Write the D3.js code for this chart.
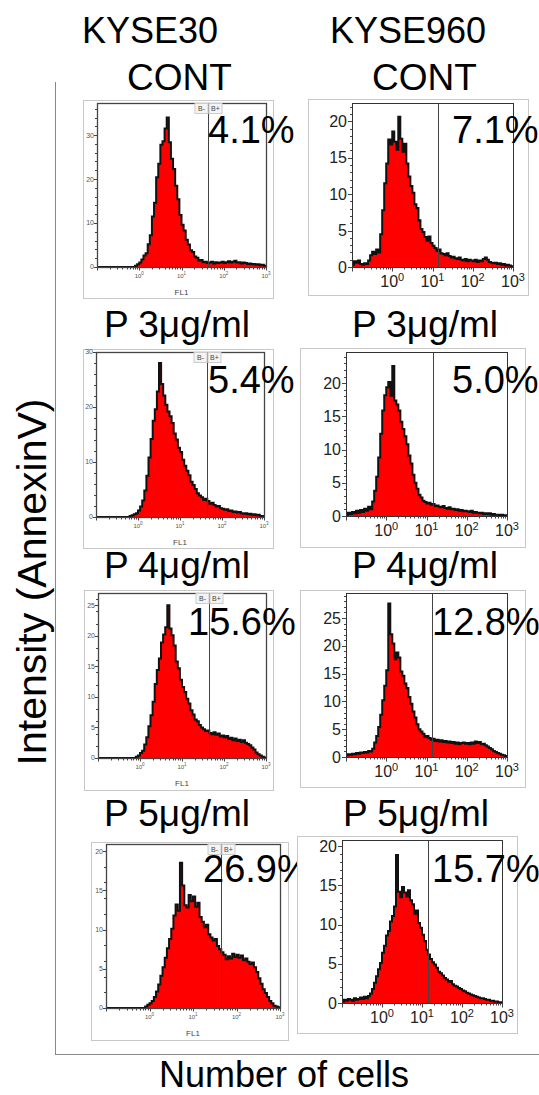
<!DOCTYPE html>
<html>
<head>
<meta charset="utf-8">
<script src="https://cdn.jsdelivr.net/npm/d3@7"></script>
<style>
  body { margin: 0; background: #fff; }
  svg { display: block; }
  text { font-family: "Liberation Sans", Arial, sans-serif; }
</style>
</head>
<body>
<svg id="chart" width="539" height="1095"></svg>
<script>
// ---- data ----
const cellLines = ['KYSE30', 'KYSE960'];
const doseLabels = ['CONT', 'P 3μg/ml', 'P 4μg/ml', 'P 5μg/ml'];
const percentLabels = ['4.1%', '7.1%', '5.4%', '5.0%', '15.6%', '12.8%', '26.9%', '15.7%'];
// gate position on FL1 (linear units)
const gateValues = [43, 14, 44, 14.5, 44, 14, 44, 14];
const xTickValues = [1, 10, 100, 1000];
const yTicks30 = [0, 10, 20, 30];
const yTicks25 = [0, 5, 10, 15, 20, 25];
const yTicks20 = [0, 5, 10, 15, 20];
const xTitle = 'Number of cells';
const yTitle = 'Intensity (AnnexinV)';
const flLabel = 'FL1';

// counts per bin, 80 bins spanning 10^-1 .. 10^3 (0.05 decade each)
const kyse30Cont = [
  0, 0, 0, 0, 0, 0, 0, 0, 0, 0, 0, 0, 0, 0, 0, 0, 0, 0, 0.3, 0.6,
  1.0, 1.7, 2.6, 3.1, 5.2, 7.2, 11.5, 14.6, 20.4, 23.5, 27.8, 28.6, 31.5, 34.0, 28.4, 24.6, 22.3, 18.5, 15.4, 11.8,
  9.6, 8.3, 6.2, 5.1, 3.8, 3.4, 2.4, 2.1, 1.5, 1.6, 1.1, 1.2, 0.9, 1.0, 1.2, 0.8, 1.1, 0.9, 1.0, 1.2,
  0.9, 1.1, 1.3, 1.0, 1.2, 1.4, 1.0, 1.1, 0.8, 1.0, 0.9, 0.7, 0.8, 0.6, 0.7, 0.5, 0.6, 0.4, 0.5, 0.3
];
const kyse960Cont = [
  0.3, 0.8, 0.6, 0.9, 0.4, 0.3, 0.5, 0.4, 0.9, 1.6, 2.1, 1.8, 2.4, 2.0, 4.5, 7.8, 11.5, 14.2, 17.5, 16.8,
  18.6, 17.2, 16.1, 20.6, 17.6, 15.8, 16.9, 14.2, 12.4, 11.1, 10.2, 8.6, 8.1, 6.4, 5.2, 4.8, 4.1, 3.6, 4.2, 3.3,
  2.9, 2.6, 2.2, 2.4, 1.9, 1.8, 1.6, 1.9, 1.5, 1.3, 1.4, 1.2, 1.1, 1.3, 1.0, 0.9, 1.1, 0.8, 1.0, 0.9,
  0.8, 1.0, 0.7, 0.9, 0.8, 1.1, 1.3, 1.0, 0.7, 0.6, 0.5, 0.6, 0.4, 0.5, 0.3, 0.4, 0.2, 0.3, 0.2, 0.1
];
const kyse30P3 = [
  0, 0, 0, 0, 0, 0, 0, 0, 0, 0, 0, 0, 0, 0, 0, 0, 0.2, 0.3, 0.5, 0.7,
  1.2, 1.9, 3.0, 4.8, 7.5, 10.8, 14.2, 17.5, 19.6, 22.8, 28.0, 24.2, 22.1, 20.4, 19.2, 18.3, 17.1, 15.2, 14.1, 12.6,
  11.8, 10.4, 9.3, 8.4, 7.6, 6.4, 5.8, 5.1, 4.3, 3.9, 3.6, 3.1, 3.3, 2.9, 2.4, 2.6, 2.2, 1.9, 2.0, 1.6,
  1.5, 1.3, 1.4, 1.1, 1.2, 0.9, 1.0, 0.8, 0.9, 0.7, 0.6, 0.7, 0.5, 0.6, 0.4, 0.5, 0.3, 0.4, 0.2, 0.2
];
const kyse960P3 = [
  0.2, 0.5, 0.3, 0.6, 0.4, 0.8, 0.5, 0.9, 0.6, 1.1, 0.8, 1.4, 1.0, 2.2, 3.8, 5.9, 8.8, 12.4, 15.9, 18.2,
  19.4, 20.2, 18.1, 22.6, 17.4, 16.8, 15.9, 14.2, 13.1, 12.0, 10.8, 9.1, 7.9, 6.2, 5.0, 4.1, 3.2, 2.8, 2.3, 2.1,
  1.9, 2.0, 1.7, 1.8, 1.5, 1.6, 1.4, 1.3, 1.5, 1.2, 1.1, 1.3, 1.0, 1.1, 0.9, 1.0, 0.8, 0.9, 0.7, 0.8,
  0.7, 0.6, 0.8, 0.5, 0.6, 0.5, 0.4, 0.5, 0.3, 0.4, 0.3, 0.4, 0.2, 0.3, 0.2, 0.2, 0.1, 0.2, 0.1, 0.1
];
const kyse30P4 = [
  0, 0, 0, 0, 0, 0, 0, 0, 0, 0, 0, 0, 0, 0, 0, 0, 0, 0, 0.2, 0.4,
  0.8, 1.2, 2.2, 3.4, 5.2, 7.0, 9.2, 12.1, 14.4, 16.3, 18.9, 20.2, 21.4, 25.0, 21.2, 20.1, 18.4, 15.8, 14.7, 12.8,
  11.6, 10.8, 9.7, 8.9, 7.8, 7.1, 6.3, 6.0, 5.4, 5.0, 4.7, 4.4, 4.5, 4.1, 3.9, 4.2, 3.8, 4.0, 3.5, 3.7,
  3.4, 3.6, 3.1, 3.3, 2.9, 3.2, 2.8, 3.0, 2.6, 2.9, 2.5, 2.3, 2.1, 1.7, 1.4, 0.9, 0.6, 0.4, 0.2, 0.1
];
const kyse960P4 = [
  0.3, 0.5, 0.4, 0.6, 0.5, 0.7, 0.6, 0.8, 0.7, 0.9, 0.8, 1.1, 1.0, 1.5, 2.6, 3.8, 5.4, 7.6, 10.2, 12.8,
  15.6, 27.6, 22.1, 20.4, 17.6, 18.8, 17.9, 15.4, 14.6, 13.2, 12.4, 10.8, 9.6, 8.2, 7.1, 5.9, 5.0, 4.6, 4.2, 3.6,
  3.8, 3.4, 3.1, 3.3, 2.9, 3.1, 2.8, 3.0, 2.7, 2.9, 2.6, 2.8, 2.5, 2.7, 2.4, 2.6, 2.3, 2.5, 2.6, 2.4,
  2.5, 2.3, 2.6, 2.4, 2.8, 2.5, 2.7, 2.3, 2.4, 2.1, 1.9, 1.6, 1.4, 1.1, 0.9, 0.7, 0.6, 0.4, 0.3, 0.2
];
const kyse30P5 = [
  0, 0, 0, 0, 0, 0, 0, 0, 0, 0, 0, 0, 0, 0, 0, 0, 0, 0, 0.2, 0.4,
  0.6, 0.9, 1.4, 2.1, 3.0, 4.1, 5.2, 6.4, 7.6, 8.8, 10.1, 11.8, 13.2, 12.4, 18.5, 15.6, 13.1, 12.8, 14.4, 13.6,
  14.2, 12.9, 13.4, 11.6, 11.0, 10.3, 10.6, 9.4, 9.0, 8.6, 8.8, 7.9, 7.5, 7.1, 6.8, 6.2, 6.6, 6.3, 6.9, 6.5,
  6.8, 6.4, 6.7, 6.1, 6.3, 5.9, 5.6, 5.8, 5.2, 4.6, 3.8, 3.1, 2.4, 1.9, 1.4, 0.9, 0.6, 0.3, 0.2, 0.1
];
const kyse960P5 = [
  0.2, 0.4, 0.3, 0.5, 0.4, 0.3, 0.6, 0.4, 0.5, 0.7, 0.5, 0.8, 0.6, 0.9, 1.2, 1.8, 2.6, 3.4, 4.3, 5.1,
  6.4, 7.3, 8.6, 9.2, 10.4, 11.1, 12.3, 18.9, 14.2, 13.5, 14.8, 14.1, 13.6, 14.4, 13.1, 12.6, 11.4, 11.8, 10.2, 9.6,
  8.7, 7.9, 6.8, 6.2, 5.6, 5.2, 4.9, 4.5, 4.0, 3.8, 3.5, 3.2, 3.0, 2.7, 2.8, 2.4, 2.2, 2.1, 1.9, 1.8,
  1.6, 1.5, 1.3, 1.2, 1.1, 1.0, 0.9, 0.8, 0.7, 0.6, 0.6, 0.5, 0.4, 0.4, 0.3, 0.3, 0.2, 0.2, 0.1, 0.1
];

const panelCounts = [kyse30Cont, kyse960Cont, kyse30P3, kyse960P3, kyse30P4, kyse960P4, kyse30P5, kyse960P5];
const panelYTicks = [yTicks30, yTicks20, yTicks30, yTicks20, yTicks25, yTicks25, yTicks20, yTicks20];

// ---- layout (pixels) ----
const layout = [
  { box: [83, 100, 190, 198], plot: [97, 103, 169, 164], yMax: 37.3, kind: 'small', pct: [208, 143] },
  { box: [308, 99, 220, 196], plot: [352, 103, 161, 164], yMax: 22.5, kind: 'large', pct: [452, 143] },
  { box: [83, 349, 190, 199], plot: [96, 352, 168, 165], yMax: 30, kind: 'small', pct: [208, 393] },
  { box: [300, 348, 225, 199], plot: [346, 352, 161, 164], yMax: 24.7, kind: 'large', pct: [452, 393] },
  { box: [84, 590, 189, 200], plot: [98, 593, 168, 165], yMax: 27, kind: 'small', pct: [188, 635] },
  { box: [300, 590, 225, 197], plot: [346, 593, 161, 164], yMax: 29.5, kind: 'large', pct: [432, 635] },
  { box: [91, 842, 197, 198], plot: [106, 844, 174, 164], yMax: 20.9, kind: 'small', pct: [203, 882] },
  { box: [297, 836, 220, 197], plot: [342, 840, 160, 163], yMax: 20.8, kind: 'large', pct: [432, 882] }
];
const headerPos = [[82, 127], [330, 372]];
const doseBaselines = [90, 337, 578, 826];
const doseX = [[104, 352], [104, 352], [104, 343]];

const svg = d3.select('#chart');

// outer frame
svg.append('line').attr('x1', 55.5).attr('x2', 55.5).attr('y1', 82).attr('y2', 1054.5)
  .attr('stroke', '#888').attr('stroke-width', 1);
svg.append('line').attr('x1', 55).attr('x2', 539).attr('y1', 1054.5).attr('y2', 1054.5)
  .attr('stroke', '#888').attr('stroke-width', 1);

// titles
cellLines.forEach((name, i) => {
  svg.append('text').attr('x', headerPos[i][0]).attr('y', 43)
    .style('font-size', '36px').text(name);
  svg.append('text').attr('x', headerPos[i][1]).attr('y', doseBaselines[0])
    .style('font-size', '37px').text(doseLabels[0]);
});
doseLabels.slice(1).forEach((d, r) => {
  doseX[r].forEach(x => {
    svg.append('text').attr('x', x).attr('y', doseBaselines[r + 1])
      .style('font-size', '37px').text(d);
  });
});

svg.append('text')
  .attr('transform', 'translate(46,582) rotate(-90)')
  .attr('text-anchor', 'middle')
  .style('font-size', '41px')
  .text(yTitle);

svg.append('text').attr('x', 284).attr('y', 1087)
  .attr('text-anchor', 'middle')
  .style('font-size', '36px')
  .text(xTitle);

function supLabel(sel, exp, supSize, dy) {
  sel.append('tspan').text('10');
  sel.append('tspan').attr('dy', dy).style('font-size', supSize + 'px').text(exp);
}

function drawPanel(i) {
  const p = layout[i];
  const counts = panelCounts[i];
  const small = p.kind === 'small';
  const [px, py, pw, ph] = p.plot;
  const g = svg.append('g');

  const x = d3.scaleLog().domain([0.1, 1000]).range([px, px + pw]);
  const y = d3.scaleLinear().domain([0, p.yMax]).range([py + ph, py]);

  g.append('rect')
    .attr('x', p.box[0] + 0.5).attr('y', p.box[1] + 0.5)
    .attr('width', p.box[2]).attr('height', p.box[3])
    .attr('fill', '#fff').attr('stroke', '#c8c8c8');

  const clipId = 'clip' + i;
  g.append('clipPath').attr('id', clipId)
    .append('rect').attr('x', px).attr('y', py).attr('width', pw).attr('height', ph);

  const binW = 4 / counts.length;
  const pts = counts.map((c, k) => ({ lo: Math.pow(10, -1 + k * binW), c }));
  pts.push({ lo: 1000, c: counts[counts.length - 1] });

  const area = d3.area()
    .x(d => x(d.lo)).y0(y(0)).y1(d => y(d.c))
    .curve(d3.curveStepAfter);
  const line = d3.line()
    .x(d => x(d.lo)).y(d => y(d.c))
    .curve(d3.curveStepAfter);

  const hist = g.append('g').attr('clip-path', `url(#${clipId})`);
  hist.append('path').datum(pts).attr('d', area).attr('fill', '#ff0000');
  hist.append('path').datum(pts).attr('d', line)
    .attr('fill', 'none').attr('stroke', '#111').attr('stroke-width', 2);

  // gate
  const gx = Math.round(x(gateValues[i])) + 0.5;
  g.append('line').attr('x1', gx).attr('x2', gx).attr('y1', py).attr('y2', py + ph)
    .attr('stroke', '#444').attr('stroke-width', 1);

  // plot frame
  g.append('rect').attr('x', px + 0.5).attr('y', py + 0.5)
    .attr('width', pw).attr('height', ph)
    .attr('fill', 'none').attr('stroke', small ? '#444' : '#333')
    .attr('stroke-width', small ? 1.3 : 1);

  const bottom = py + ph + 0.5;
  // x ticks (log, minor + major)
  x.ticks().forEach(v => {
    const major = Math.abs(Math.log10(v) - Math.round(Math.log10(v))) < 1e-9;
    const len = major ? (small ? 3 : 4) : 2;
    g.append('line').attr('x1', Math.round(x(v)) + 0.5).attr('x2', Math.round(x(v)) + 0.5)
      .attr('y1', bottom).attr('y2', bottom + len)
      .attr('stroke', '#444').attr('stroke-width', 1);
  });
  xTickValues.forEach(v => {
    const t = g.append('text')
      .attr('x', x(v)).attr('y', bottom + (small ? 10 : 19))
      .attr('text-anchor', 'middle')
      .attr('fill', small ? '#555' : '#222')
      .style('font-size', small ? '6px' : '16px');
    supLabel(t, String(Math.round(Math.log10(v))), small ? 4.5 : 11, small ? -2.5 : -6);
  });

  // y ticks
  const step = small ? 2 : 1;
  for (let v = 0; v <= p.yMax; v += step) {
    g.append('line').attr('x1', px).attr('x2', px - 2)
      .attr('y1', Math.round(y(v)) + 0.5).attr('y2', Math.round(y(v)) + 0.5)
      .attr('stroke', '#444');
  }
  panelYTicks[i].forEach(v => {
    g.append('line').attr('x1', px).attr('x2', px - (small ? 3 : 4))
      .attr('y1', Math.round(y(v)) + 0.5).attr('y2', Math.round(y(v)) + 0.5)
      .attr('stroke', '#444');
    g.append('text')
      .attr('x', px - (small ? 3 : 5)).attr('y', y(v))
      .attr('dy', '0.35em')
      .attr('text-anchor', 'end')
      .attr('fill', small ? '#555' : '#222')
      .style('font-size', small ? '7px' : '16px')
      .text(v);
  });

  if (small) {
    g.append('text').attr('x', px + pw / 2).attr('y', bottom + 27)
      .attr('text-anchor', 'middle').attr('fill', '#444')
      .style('font-size', '8px').text(flLabel);
    // B- / B+ gate labels
    [['B-', gx - 14], ['B+', gx]].forEach(([lab, bx]) => {
      g.append('rect').attr('x', bx + 0.5).attr('y', py + 0.5).attr('width', 13).attr('height', 10)
        .attr('fill', '#f4f4f4').attr('stroke', '#ccc');
      g.append('text').attr('x', bx + 7).attr('y', py + 8)
        .attr('text-anchor', 'middle').attr('fill', '#444')
        .style('font-size', '7px').text(lab);
    });
  }

  g.append('text').attr('x', p.pct[0]).attr('y', p.pct[1])
    .style('font-size', '38px').attr('fill', '#000')
    .text(percentLabels[i]);
}

layout.forEach((p, i) => drawPanel(i));
</script>
</body>
</html>
